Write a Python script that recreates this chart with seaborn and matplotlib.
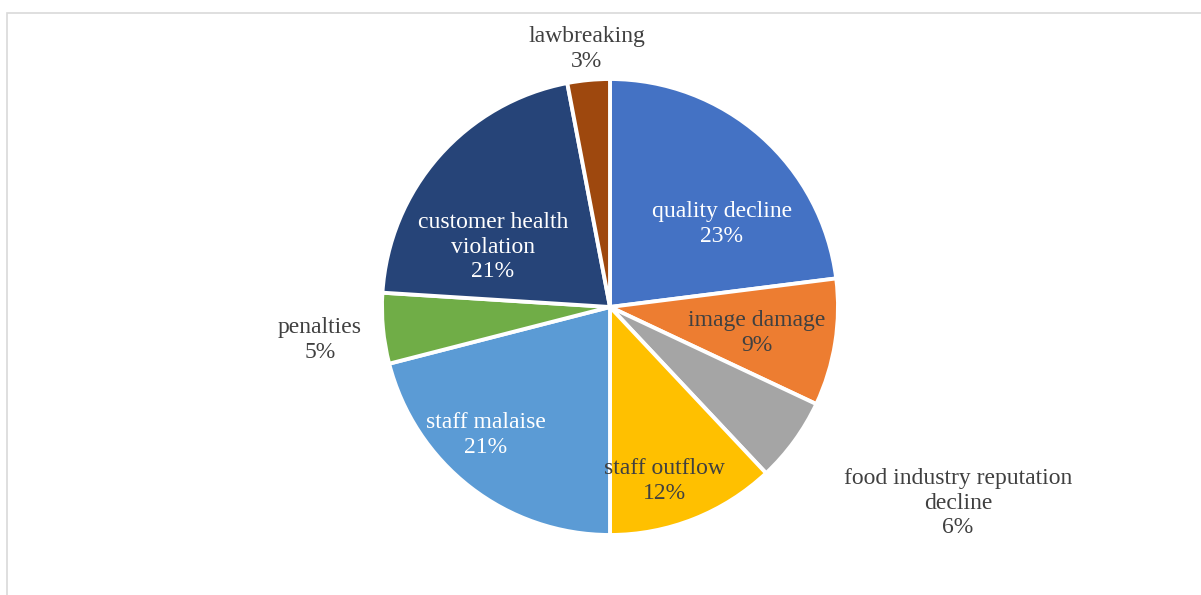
import matplotlib
matplotlib.use("Agg")
import matplotlib.pyplot as plt
from matplotlib.patches import Rectangle
import seaborn as sns

# Share of each consequence (percent)
categories = ["quality decline", "image damage", "food industry reputation\ndecline",
              "staff outflow", "staff malaise", "penalties",
              "customer health\nviolation", "lawbreaking"]
values = [23, 9, 6, 12, 21, 5, 21, 3]
colors = ["#4472C4", "#ED7D31", "#A5A5A5", "#FFC000",
          "#5B9BD5", "#70AD47", "#264478", "#9E480E"]
label_colors = ["white", "#404040", "#404040", "#404040",
                "white", "#404040", "white", "#404040"]

# label anchors, in units of the pie radius (pie centred at the origin)
label_xy = [(0.491, 0.364), (0.645, -0.114), (1.526, -0.860), (0.237, -0.763),
            (-0.544, -0.561), (-1.272, -0.145), (-0.513, 0.263), (-0.101, 1.132)]

sns.set_theme(style="white")
plt.rcParams["font.family"] = ["Liberation Serif", "DejaVu Serif"]

W, H, DPI = 1201, 595, 100
cx, cy, R = 610, 307, 228

fig = plt.figure(figsize=(W / DPI, H / DPI), dpi=DPI)
ax = fig.add_axes([0, 0, 1, 1])

palette = sns.color_palette(colors)
ax.pie(values, colors=palette, startangle=90, counterclock=False,
       radius=1.0, wedgeprops=dict(edgecolor="white", linewidth=2.8))

ax.set_xlim(-cx / R, (W - cx) / R)
ax.set_ylim(-(H - cy) / R, cy / R)
ax.set_aspect("auto")
ax.axis("off")

for name, v, (x, y), c in zip(categories, values, label_xy, label_colors):
    ax.text(x, y, f"{name}\n{v}%", ha="center", va="center",
            fontsize=17, color=c, linespacing=1.2)

# light chart frame
fig.patches.append(Rectangle((7 / W, -0.05), 1.1, 1 - 13 / H + 0.05,
                             transform=fig.transFigure, fill=False,
                             edgecolor="#D9D9D9", linewidth=1.2))

fig.savefig("out.png", dpi=DPI, facecolor="white")
